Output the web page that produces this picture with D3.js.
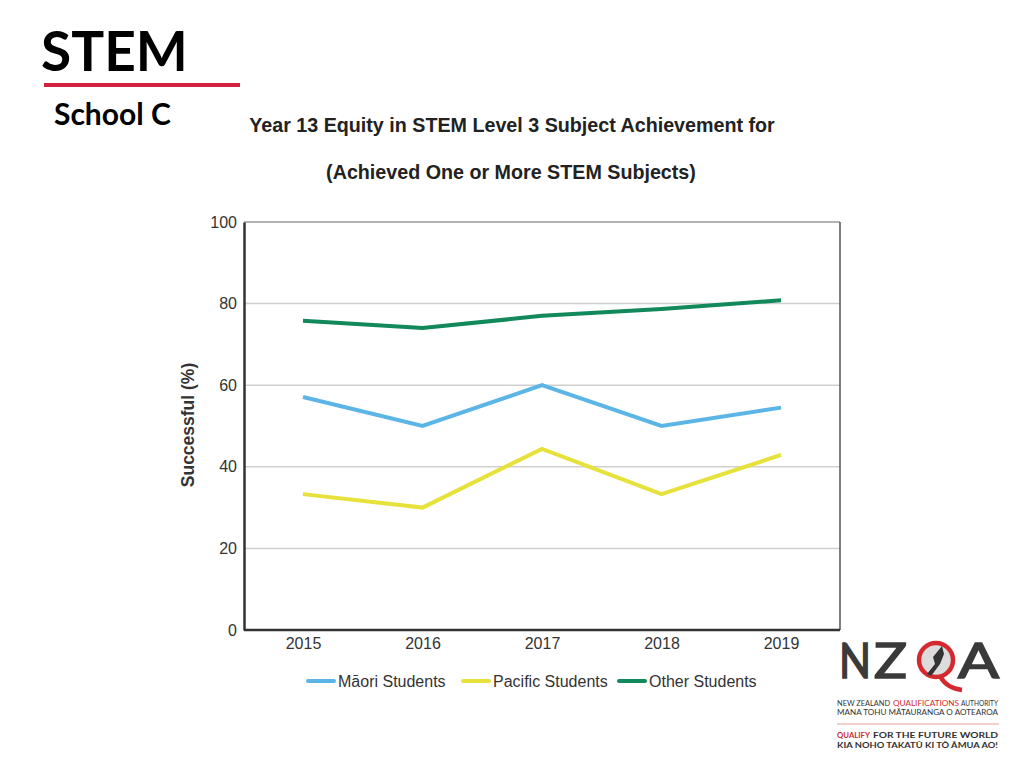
<!DOCTYPE html>
<html><head><meta charset="utf-8">
<script src="https://cdn.jsdelivr.net/npm/d3@7"></script>
<style>body{margin:0;background:#fff;}svg{display:block;}</style>
</head><body>
<script>
const years = ["2015","2016","2017","2018","2019"];
const maori = [57.1, 50.0, 60.0, 50.0, 54.5];
const pacific = [33.3, 30.0, 44.4, 33.3, 42.9];
const other = [75.8, 74.0, 77.0, 78.7, 80.8];
const yTicks = [0, 20, 40, 60, 80, 100];
const seriesNames = ["Māori Students", "Pacific Students", "Other Students"];
const seriesColors = ["#5bb5e6", "#e6e23b", "#11895a"];

const svg = d3.select("body").append("svg").attr("width",1024).attr("height",768);

// Slide header
svg.append("text").attr("x",41).attr("y",71).attr("font-family","Lato, 'Open Sans', sans-serif")
  .attr("font-weight","bold").attr("font-size",55).attr("fill","#000").text("STEM");
svg.append("rect").attr("x",44).attr("y",83).attr("width",196).attr("height",4).attr("fill","#d0213f");
svg.append("text").attr("x",54).attr("y",125).attr("font-family","Lato, 'Open Sans', sans-serif")
  .attr("font-weight","bold").attr("font-size",30).attr("fill","#000").text("School C");

// Chart titles
const tf = "'Liberation Sans', Arial, sans-serif";
svg.append("text").attr("x",512).attr("y",132).attr("text-anchor","middle").attr("font-family",tf)
  .attr("font-weight","bold").attr("font-size",19.7).attr("fill","#222")
  .text("Year 13 Equity in STEM Level 3 Subject Achievement for");
svg.append("text").attr("x",511).attr("y",179).attr("text-anchor","middle").attr("font-family",tf)
  .attr("font-weight","bold").attr("font-size",19.7).attr("fill","#222")
  .text("(Achieved One or More STEM Subjects)");

const L=244, R=840, T=222, B=630;
const x = d3.scalePoint().domain(years).range([303,781]);
const y = d3.scaleLinear().domain([0,100]).range([B,T]);

// gridlines
svg.append("g").selectAll("line").data(yTicks.filter(d=>d>0 && d<100)).join("line")
  .attr("x1",L).attr("x2",R).attr("y1",d=>y(d)).attr("y2",d=>y(d))
  .attr("stroke","#cfcfcf").attr("stroke-width",1.5);
// frame
svg.append("line").attr("x1",L).attr("x2",R).attr("y1",T).attr("y2",T).attr("stroke","#999").attr("stroke-width",1.5);
svg.append("line").attr("x1",R).attr("x2",R).attr("y1",T).attr("y2",B).attr("stroke","#555").attr("stroke-width",1.5);

// y axis
const yAxis = svg.append("g").attr("transform",`translate(${L},0)`)
  .call(d3.axisLeft(y).tickValues(yTicks).tickSize(0).tickPadding(7));
yAxis.select(".domain").attr("stroke","#333").attr("stroke-width",2.5);
yAxis.selectAll("text").attr("font-family",tf).attr("font-size",16).attr("fill","#333");

// x axis
const xAxis = svg.append("g").attr("transform",`translate(0,${B})`)
  .call(d3.axisBottom(x).tickSize(0).tickPadding(8));
xAxis.select(".domain").attr("d",`M${L},0H${R}`).attr("stroke","#333").attr("stroke-width",2.5);
xAxis.selectAll("text").attr("font-family",tf).attr("font-size",16).attr("fill","#333");

// y label
svg.append("text").attr("transform","translate(194,425) rotate(-90)").attr("text-anchor","middle")
  .attr("font-family",tf).attr("font-weight","bold").attr("font-size",17.5).attr("fill","#333").text("Successful (%)");

// lines
const line = d3.line().x((d,i)=>x(years[i])).y(d=>y(d));
[maori, pacific, other].forEach((s,i)=>{
  svg.append("path").datum(s).attr("d",line).attr("fill","none")
    .attr("stroke",seriesColors[i]).attr("stroke-width",4).attr("stroke-linejoin","miter");
});

// legend
const lx = [308, 463, 619];
seriesNames.forEach((n,i)=>{
  svg.append("line").attr("x1",lx[i]).attr("x2",lx[i]+26).attr("y1",681).attr("y2",681)
    .attr("stroke",seriesColors[i]).attr("stroke-width",4).attr("stroke-linecap","round");
  svg.append("text").attr("x",lx[i]+30).attr("y",686.5).attr("font-family",tf).attr("font-size",16)
    .attr("fill","#333").text(n);
});

// NZQA logo
const lg = svg.append("g");
const lf = "Lato, 'Open Sans', sans-serif";
function big(ch, x0, w){
  lg.append("text").attr("x",x0).attr("y",678).attr("font-family",lf).attr("font-size",48).attr("fill","#3a3a3a")
    .attr("stroke","#3a3a3a").attr("stroke-width",1.6)
    .attr("textLength",w).attr("lengthAdjust","spacingAndGlyphs").text(ch);
}
big("N", 839, 32);
big("Z", 874, 33);
lg.append("circle").attr("cx",936).attr("cy",660).attr("r",17).attr("fill","#dcdcdc").attr("stroke","#d42a2f").attr("stroke-width",4.5);
lg.append("path").attr("d","M940,676 Q946,688 962,690").attr("fill","none").attr("stroke","#d42a2f").attr("stroke-width",4.5);
lg.append("path").attr("d","M942,646 L933,657 L935,664 L927,674 L931,676 L940,664 L944,654 Z").attr("fill","#333");
big("A", 958, 41);
function small(txt, x0, w, yy, col, bold){
  lg.append("text").attr("x",x0).attr("y",yy).attr("font-family",lf).attr("font-size",7.4)
    .attr("font-weight",bold?"bold":"normal").attr("fill",col)
    .attr("textLength",w).attr("lengthAdjust","spacingAndGlyphs").text(txt);
}
small("NEW ZEALAND", 837, 53, 706, "#333", false);
small("QUALIFICATIONS", 893, 66, 706, "#d42a2f", false);
small("AUTHORITY", 961, 37, 706, "#333", false);
small("MANA TOHU MĀTAURANGA O AOTEAROA", 837, 161, 715, "#333", false);
lg.append("line").attr("x1",837).attr("x2",999).attr("y1",724).attr("y2",724).attr("stroke","#e8a0a0").attr("stroke-width",1);
small("QUALIFY", 837, 33, 738, "#d42a2f", true);
small("FOR THE FUTURE WORLD", 873, 125, 738, "#333", true);
small("KIA NOHO TAKATŪ KI TŌ ĀMUA AO!", 837, 161, 748, "#333", true);
</script>
</body></html>
